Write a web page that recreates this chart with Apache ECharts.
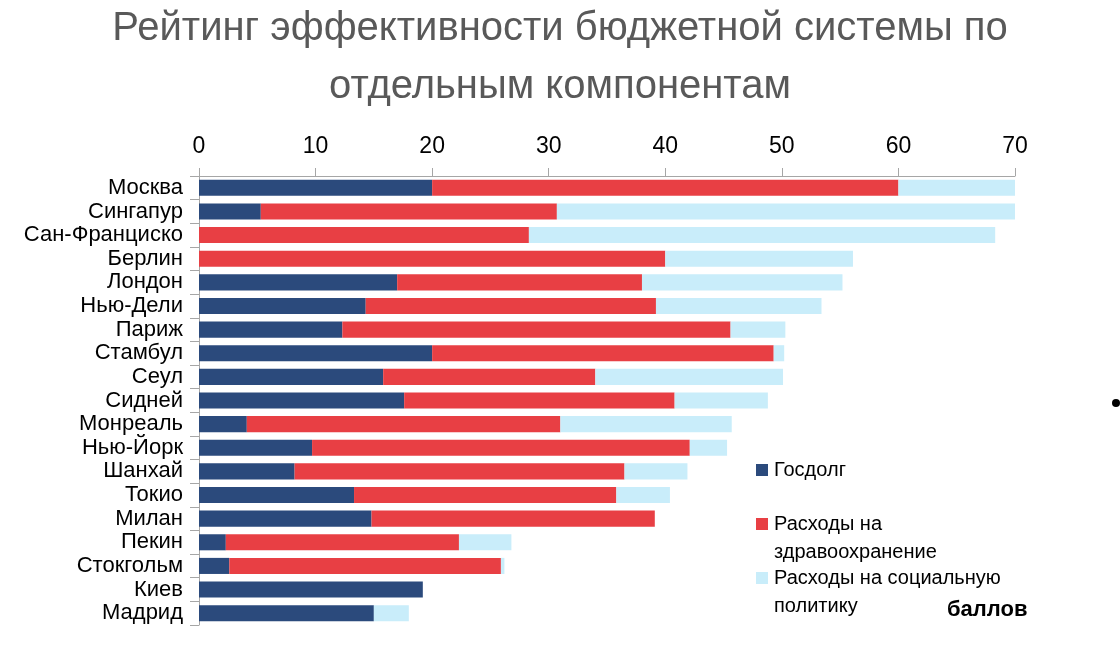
<!DOCTYPE html>
<html>
<head>
<meta charset="utf-8">
<script src="https://cdn.jsdelivr.net/npm/echarts@6/dist/echarts.min.js"></script>
<style>html,body{margin:0;padding:0;background:#fff}#c{width:1120px;height:648px}</style>
</head>
<body>
<div id="c"></div>
<script>
const categories = ['Москва','Сингапур','Сан-Франциско','Берлин','Лондон','Нью-Дели','Париж','Стамбул','Сеул','Сидней','Монреаль','Нью-Йорк','Шанхай','Токио','Милан','Пекин','Стокгольм','Киев','Мадрид'];
const debt   = [20, 5.3, 0, 0, 17, 14.3, 12.3, 20, 15.8, 17.6, 4.1, 9.7, 8.2, 13.3, 14.8, 2.3, 2.6, 19.2, 15];
const health = [40, 25.4, 28.3, 40, 21, 24.9, 33.3, 29.3, 18.2, 23.2, 26.9, 32.4, 28.3, 22.5, 24.3, 20.0, 23.3, 0, 0];
const social = [10, 39.3, 40, 16.1, 17.2, 14.2, 4.7, 0.9, 16.1, 8.0, 14.7, 3.2, 5.4, 4.6, 0, 4.5, 0.3, 0, 3];
const xTicks = [0, 10, 20, 30, 40, 50, 60, 70];
const seriesNames = ['Госдолг', 'Расходы на здравоохранение', 'Расходы на социальную политику'];
const legendLabels = ['Госдолг', 'Расходы на\nздравоохранение', 'Расходы на социальную\nполитику'];
const colors = ['#2B4A7C', '#E83F44', '#C9EDFA'];

const FONT = "'Liberation Sans', Arial, sans-serif";
const chart = echarts.init(document.getElementById('c'), null, {renderer: 'canvas'});

const legendTops = [470, 524, 578];
const legendGraphics = [];
legendLabels.forEach((lab, i) => {
  legendGraphics.push({type: 'rect', shape: {x: 756, y: legendTops[i] - 6, width: 12, height: 12}, style: {fill: colors[i]}});
  legendGraphics.push({type: 'text', x: 774, y: legendTops[i] - 14,
    style: {text: lab, font: '20px ' + FONT, fill: '#000', lineHeight: 28, verticalAlign: 'top'}});
});

chart.setOption({
  animation: false,
  title: {
    text: 'Рейтинг эффективности бюджетной системы по\nотдельным компонентам',
    left: 'center', top: -5,
    textStyle: {fontFamily: FONT, fontSize: 40, fontWeight: 'normal', color: '#595959', lineHeight: 58}
  },
  grid: {left: 199, right: 105, top: 176, bottom: 23},
  xAxis: {
    type: 'value', position: 'top', min: xTicks[0], max: xTicks[xTicks.length - 1], interval: 10,
    axisLine: {show: true, lineStyle: {color: '#A6A6A6', width: 1}},
    axisTick: {show: true, length: 8, lineStyle: {color: '#A6A6A6'}},
    splitLine: {show: false},
    axisLabel: {fontFamily: FONT, fontSize: 23, color: '#000', margin: 18}
  },
  yAxis: {
    type: 'category', inverse: true, data: categories,
    axisLine: {show: true, lineStyle: {color: '#A6A6A6', width: 1}},
    axisTick: {show: true, length: 9, lineStyle: {color: '#A6A6A6'}},
    axisLabel: {fontFamily: FONT, fontSize: 22, color: '#000', margin: 16, interval: 0}
  },
  series: [debt, health, social].map((d, i) => ({
    name: seriesNames[i], type: 'bar', stack: 'total', data: d,
    barWidth: '68%', itemStyle: {color: colors[i]}
  })),
  graphic: legendGraphics.concat([
    {type: 'text', x: 947, y: 610, style: {text: 'баллов', font: "bold 22px " + FONT, fill: '#000', verticalAlign: 'middle'}},
    {type: 'circle', shape: {cx: 1116, cy: 403, r: 4}, style: {fill: '#000'}}
  ])
});
</script>
</body>
</html>
